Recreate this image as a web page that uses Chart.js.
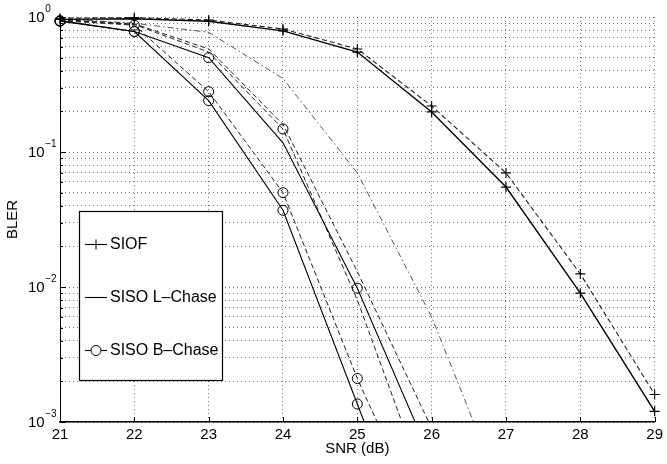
<!DOCTYPE html>
<html>
<head>
<meta charset="utf-8">
<script src="https://cdn.jsdelivr.net/npm/chart.js@4.4.0/dist/chart.umd.min.js"></script>
<style>
  html, body { margin: 0; padding: 0; background: #fff; }
</style>
</head>
<body>
<canvas id="blerChart" width="667" height="464"></canvas>
<script>
// SNR points (dB)
const snr = [21, 22, 23, 24, 25, 26, 27, 28, 29];

// BLER values (null = not plotted)
const siofSolid    = [0.96, 0.97, 0.93, 0.79, 0.55, 0.198, 0.055, 0.009, 0.0012];
const siofDashed   = [0.98, 0.99, 0.95, 0.815, 0.58, 0.219, 0.070, 0.0125, 0.0016];
const lChaseSolid  = [0.94, 0.78, 0.50, 0.117, 0.0098, 0.00052, null, null, null];
const lChaseDash1  = [0.95, 0.88, 0.55, 0.148, 0.008, 0.00025, null, null, null];
const lChaseDash2  = [0.96, 0.89, 0.58, 0.16, 0.013, 0.0009, null, null, null];
const lChaseDashDot = [0.97, 0.90, 0.77, 0.35, 0.07, 0.006, 0.00025, null, null];
const bChaseSolid  = [0.93, 0.78, 0.24, 0.037, 0.00136, 0.00005, null, null, null];
const bChaseDashed = [0.94, 0.87, 0.28, 0.05, 0.0021, 0.00013, null, null, null];
const bChaseMarks  = [0.93, 0.78, 0.50, 0.148, 0.0098, null, null, null, null];

// y axis decades (labels 10^e) and legend text
const yTickExponents = [0, -1, -2, -3];
const legendLabels = ['SIOF', 'SISO L\u2013Chase', 'SISO B\u2013Chase'];

// gridline values: 1..9 x each decade
const yGridValues = [];
yTickExponents.forEach(e => {
  for (let m = 1; m <= 9; m++) {
    const v = m * Math.pow(10, e);
    if (v <= 1 + 1e-9) yGridValues.push(v);
  }
});

const FONT = "'Liberation Sans', Arial, Helvetica, sans-serif";

function toPoints(values) {
  return values.map((v, i) => v === null ? null : { x: snr[i], y: v }).filter(p => p);
}

function lineSet(label, values, opts) {
  return Object.assign({
    label: label,
    data: toPoints(values),
    borderColor: '#000',
    borderWidth: 1.1,
    pointRadius: 0,
    pointBorderColor: '#000',
    pointBackgroundColor: 'rgba(0,0,0,0)',
    pointBorderWidth: 1,
    fill: false,
    tension: 0,
    clip: { left: 10, top: 10, right: 10, bottom: 0 }
  }, opts);
}

const DASH = [5, 3];
const DASHDOT = [6, 3, 1.5, 3];

const datasets = [
  lineSet('SIOF', siofSolid, { borderWidth: 1.4, pointStyle: 'cross', pointRadius: 5, pointBorderWidth: 1.2 }),
  lineSet('SIOF dashed', siofDashed, { borderColor: '#222', borderDash: DASH, pointStyle: 'cross', pointRadius: 5, pointBorderWidth: 1.1 }),
  lineSet('SISO L-Chase', lChaseSolid, {}),
  lineSet('L-Chase dashed 1', lChaseDash1, { borderColor: '#222', borderWidth: 1, borderDash: DASH }),
  lineSet('L-Chase dashed 2', lChaseDash2, { borderColor: '#222', borderWidth: 1, borderDash: DASH }),
  lineSet('L-Chase dash-dot', lChaseDashDot, { borderColor: '#444', borderWidth: 0.9, borderDash: DASHDOT }),
  lineSet('SISO B-Chase', bChaseSolid, { pointStyle: 'circle', pointRadius: 5 }),
  lineSet('B-Chase dashed', bChaseDashed, { borderColor: '#222', borderWidth: 1, borderDash: DASH, pointStyle: 'circle', pointRadius: 5 }),
  lineSet('B-Chase marks', bChaseMarks, { showLine: false, pointStyle: 'circle', pointRadius: 5 })
];

// MATLAB-like extras: inward ticks, 10^e labels, boxed legend
const matlabLook = {
  id: 'matlabLook',
  afterDraw(chart) {
    const { ctx, chartArea, scales } = chart;
    const xs = scales.x, ys = scales.y;
    ctx.save();
    ctx.strokeStyle = '#000';
    ctx.lineWidth = 1;

    // inward ticks on y
    yGridValues.forEach(v => {
      const py = Math.round(ys.getPixelForValue(v)) + 0.5;
      const major = Math.abs(Math.log10(v) - Math.round(Math.log10(v))) < 1e-9;
      ctx.beginPath();
      ctx.moveTo(chartArea.left, py);
      ctx.lineTo(chartArea.left + (major ? 6 : 3), py);
      ctx.stroke();
    });
    // inward ticks on x
    snr.forEach(v => {
      const px = Math.round(xs.getPixelForValue(v)) + 0.5;
      ctx.beginPath();
      ctx.moveTo(px, chartArea.bottom);
      ctx.lineTo(px, chartArea.bottom - 5);
      ctx.stroke();
    });

    // y tick labels as 10 with superscript exponent
    ctx.fillStyle = '#000';
    ctx.textBaseline = 'alphabetic';
    ctx.textAlign = 'left';
    yTickExponents.forEach(e => {
      const py = ys.getPixelForValue(Math.pow(10, e));
      ctx.font = '15px ' + FONT;
      ctx.fillText('10', 28, py + 5);
      const w = ctx.measureText('10').width;
      ctx.font = '10px ' + FONT;
      ctx.fillText(e === 0 ? '0' : '\u2212' + Math.abs(e), 28 + w + 0.5, py - 5);
    });

    // legend box
    const bx = 79, by = 211, bw = 143, bh = 169;
    ctx.fillStyle = '#fff';
    ctx.fillRect(bx, by, bw, bh);
    ctx.lineWidth = 1.2;
    ctx.strokeRect(bx + 0.5, by + 0.5, bw, bh);
    const rows = [244, 297, 350];
    ctx.font = '16px ' + FONT;
    ctx.textBaseline = 'middle';
    legendLabels.forEach((txt, i) => {
      const y = rows[i] + 0.5;
      ctx.lineWidth = 1.1;
      ctx.beginPath();
      ctx.moveTo(85, y);
      ctx.lineTo(107, y);
      ctx.stroke();
      if (i === 0) {
        ctx.beginPath();
        ctx.moveTo(96, y - 5); ctx.lineTo(96, y + 5);
        ctx.moveTo(91, y); ctx.lineTo(101, y);
        ctx.stroke();
      } else if (i === 2) {
        ctx.beginPath();
        ctx.arc(96, y, 5, 0, Math.PI * 2);
        ctx.fillStyle = '#fff';
        ctx.fill();
        ctx.lineWidth = 1;
        ctx.stroke();
      }
      ctx.fillStyle = '#000';
      ctx.fillText(txt, 110, rows[i] + 1);
    });
    ctx.restore();
  }
};

const gridOpts = { color: 'rgba(0,0,0,0.55)', lineWidth: 1, drawTicks: false };

new Chart(document.getElementById('blerChart'), {
  type: 'line',
  data: { datasets: datasets },
  options: {
    responsive: false,
    animation: false,
    layout: { padding: { top: 17, right: 7, left: 0, bottom: 0 } },
    plugins: { legend: { display: false }, tooltip: { enabled: false } },
    scales: {
      x: {
        type: 'linear',
        min: 21,
        max: 29,
        ticks: { stepSize: 1, color: '#000', padding: 4, maxRotation: 0, font: { family: FONT, size: 15 } },
        grid: gridOpts,
        border: { display: true, color: '#000', width: 1.5, dash: [1, 3] },
        title: { display: true, text: 'SNR (dB)', color: '#000', font: { family: FONT, size: 15 }, padding: { top: 0, bottom: 6 } },
        afterFit: s => { s.height = 42; }
      },
      y: {
        type: 'logarithmic',
        min: 0.001,
        max: 1,
        afterBuildTicks: s => { s.ticks = yGridValues.map(v => ({ value: v })); },
        ticks: { display: false },
        grid: gridOpts,
        border: { display: true, color: '#000', width: 1, dash: [1, 3] },
        title: { display: true, text: 'BLER', color: '#000', font: { family: FONT, size: 15 }, padding: { top: 4, bottom: 0 } },
        afterFit: s => { s.width = 60; }
      }
    }
  },
  plugins: [matlabLook]
});
</script>
</body>
</html>
